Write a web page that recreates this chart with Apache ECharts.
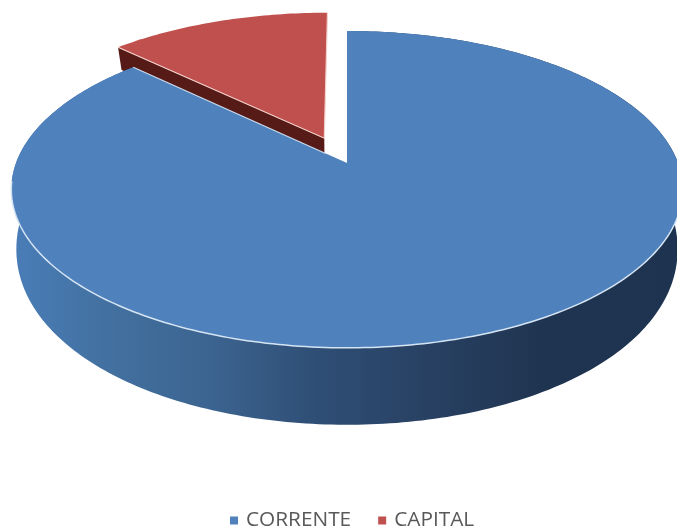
<!DOCTYPE html>
<html><head><meta charset="utf-8">
<style>html,body{margin:0;padding:0;background:#fff}#c{width:677px;height:528px}</style>
<script src="https://cdn.jsdelivr.net/npm/echarts@6/dist/echarts.min.js"></script>
</head><body><div id="c"></div>
<script>
const categories = ['CORRENTE', 'CAPITAL'];
const values = [87.2, 12.8];
const colors = ['#4f81bd', '#c0504d'];
const explode = [0, 0.18];

const total = values[0] + values[1];
const P = {ax: 347, ay: 163, rx: 331, ry: 154, k: 1 / 6, s: 0.985, d0: 55, d1: 30.5, d2: -8.5};

function proj(x, y) {
  const w = 1 - P.k * y;
  return [P.ax + P.rx * x / w, P.ay + P.ry * y / w];
}
function low(x, y) {
  const p = proj(x, y);
  return [P.ax + (p[0] - P.ax) * P.s, p[1] + P.d0 + P.d1 * y + P.d2 * y * y];
}
function slice(a0, a1, e) {
  const m = (a0 + a1) / 2, ox = e * Math.sin(m), oy = -e * Math.cos(m);
  const disk = [], n = Math.max(8, Math.ceil((a1 - a0) * 60));
  for (let i = 0; i <= n; i++) {
    const t = a0 + (a1 - a0) * i / n;
    disk.push([ox + Math.sin(t), oy - Math.cos(t)]);
  }
  return {apex: [ox, oy], disk};
}
const toTop = d => proj(d[0], d[1]);
const toLow = d => low(d[0], d[1]);
const wallFill = {
  type: 'linear', global: true, x: 11, y: 0, x2: 677, y2: 0,
  colorStops: [
    {offset: 0, color: '#4a7db8'}, {offset: 0.15, color: '#42709f'},
    {offset: 0.3, color: '#3c6490'}, {offset: 0.45, color: '#2f4f76'},
    {offset: 0.65, color: '#273f60'}, {offset: 0.8, color: '#1f3450'},
    {offset: 1, color: '#1d3350'}
  ]
};
const TAU = Math.PI * 2;

function renderMain(params, api) {
  const v = api.value(0), a1 = TAU * v / total;
  const s = slice(0, a1, explode[0]);
  const top = s.disk.map(toTop), bot = s.disk.map(toLow);
  const apex = toTop(s.apex);
  const front = s.disk.filter(d => d[1] > 0.1).map(toTop);
  const corner = top[top.length - 1];
  const cutEnd = [corner[0] + (apex[0] - corner[0]) * 0.9, corner[1] + (apex[1] - corner[1]) * 0.9];
  return {type: 'group', children: [
    {type: 'polygon', shape: {points: top.concat(bot.slice().reverse())}, style: {fill: wallFill}},
    {type: 'polygon', shape: {points: top.concat([apex])}, style: {fill: colors[0]}},
    {type: 'polyline', shape: {points: front}, style: {fill: null, stroke: '#d5e4f3', lineWidth: 1.5}},
    {type: 'polyline', shape: {points: [corner, cutEnd]}, style: {fill: null, stroke: '#c9dcef', lineWidth: 1.2}}
  ]};
}
function renderCapital(params, api) {
  const v = api.value(0), a0 = -TAU * v / total;
  const s = slice(a0, 0, explode[1]);
  const top = s.disk.map(toTop);
  const apexT = toTop(s.apex), apexB = toLow(s.apex);
  const cornerT = top[0], cornerB = toLow(s.disk[0]);
  return {type: 'group', children: [
    {type: 'polygon', shape: {points: [apexT, cornerT, cornerB, apexB]}, style: {fill: '#561a17'}},
    {type: 'polygon', shape: {points: top.concat([apexT])}, style: {fill: colors[1]}},
    {type: 'polyline', shape: {points: [top[top.length - 1], apexT, cornerT]}, style: {fill: null, stroke: '#f3d3cd', lineWidth: 1.2}}
  ]};
}

const chart = echarts.init(document.getElementById('c'), null, {renderer: 'canvas'});
chart.setOption({
  animation: false,
  backgroundColor: '#fff',
  legend: {
    data: categories, left: 230, top: 510, icon: 'rect', itemWidth: 8, itemHeight: 8, itemGap: 27,
    padding: 0, selectedMode: false,
    textStyle: {fontFamily: 'Open Sans', fontSize: 20.8, color: '#595959', padding: [0, 0, 0, 3]}
  },
  series: [
    {type: 'custom', name: categories[0], coordinateSystem: 'none', z: 3, silent: true,
     itemStyle: {color: colors[0]}, data: [[values[0]]], renderItem: renderMain},
    {type: 'custom', name: categories[1], coordinateSystem: 'none', z: 2, silent: true,
     itemStyle: {color: colors[1]}, data: [[values[1]]], renderItem: renderCapital}
  ]
});
</script></body></html>
